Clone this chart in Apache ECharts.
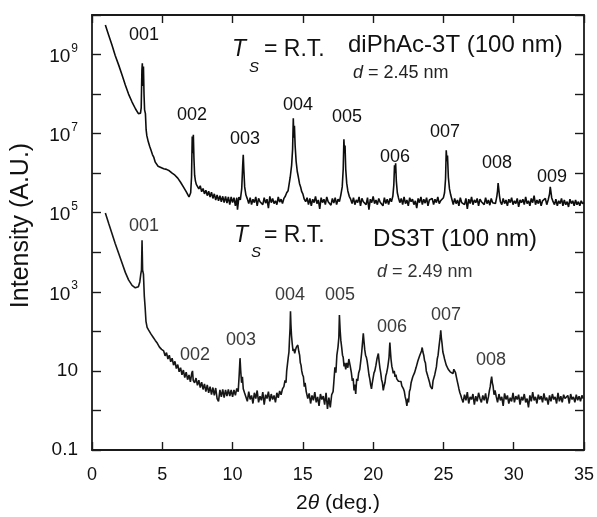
<!DOCTYPE html>
<html>
<head>
<meta charset="utf-8">
<script src="https://cdn.jsdelivr.net/npm/echarts@6/dist/echarts.min.js"></script>
<style>
html,body{margin:0;padding:0;background:#fff;}
#chart{width:597px;height:517px;}
</style>
</head>
<body>
<div id="chart"></div>
<script>
// ---- tick values / labels ----
const xTickValues = [0, 5, 10, 15, 20, 25, 30, 35];
const yTickValues = [0.1, 1, 10, 100, 1e3, 1e4, 1e5, 1e6, 1e7, 1e8, 1e9, 1e10];
const yLabelValues = [0.1, 10, 1e3, 1e5, 1e7, 1e9];

// ---- diPhAc-3T (upper trace): [2theta, intensity] ----
const diPhAc3T = [
[0.95,5.6e9],[1.2,3.0e9],[1.42,1.74e9],[1.65,9.5e8],[1.9,5.4e8],[2.15,2.95e8],[2.37,1.7e8],[2.6,1.0e8],[2.85,6.3e7],[3.1,4.2e7],[3.3,3.2e7],[3.4,2.95e7],[3.45,3.3e7],[3.5,4.5e7],[3.55,4.0e8],[3.58,6.0e8],[3.62,1.6e8],[3.66,5.0e8],[3.7,1.0e8],[3.74,4.0e7],[3.8,3.2e7],[3.85,1.26e7],[3.9,8.9e6],
[4.0,6.3e6],[4.1,4.8e6],[4.2,3.8e6],[4.3,2.95e6],[4.4,2.5e6],[4.5,1.9e6],[4.6,1.85e6],[4.7,1.5e6],[4.8,1.6e6],[4.9,1.4e6],[5.0,1.55e6],[5.1,1.3e6],[5.2,1.45e6],[5.3,1.25e6],[5.4,1.4e6],[5.5,1.15e6],[5.6,1.25e6],[5.7,1.0e6],[5.8,1.1e6],[5.9,8.9e5],[6.0,9.5e5],[6.1,7.5e5],[6.2,7.6e5],[6.3,5.9e5],[6.4,6.0e5],[6.5,4.5e5],[6.6,4.6e5],[6.7,3.4e5],[6.8,3.3e5],[6.9,2.5e5],[6.95,2.3e5],[7.02,3.2e5],[7.08,7.9e5],[7.13,8.5e6],[7.17,3.2e6],[7.21,9.3e6],[7.25,2.5e6],[7.3,8.9e5],[7.36,6.3e5],[7.42,5.2e5],[7.5,5.6e5],[7.6,4.0e5],[7.7,4.8e5],[7.8,3.4e5],[7.9,4.1e5],[8.0,3.0e5],[8.1,3.7e5],[8.2,2.7e5],[8.3,3.5e5],[8.4,2.5e5],[8.5,3.3e5],[8.6,2.3e5],[8.7,3.0e5],[8.8,2.1e5],[8.9,2.8e5],[9.0,2.0e5],[9.1,2.7e5],[9.2,1.9e5],[9.3,2.6e5],[9.4,1.8e5],[9.5,2.6e5],[9.6,1.75e5],[9.7,2.5e5],[9.8,1.6e5],[9.9,2.5e5],[10.0,1.8e5],[10.1,2.4e5],[10.2,1.5e5],[10.3,2.4e5],[10.35,1.2e5],[10.45,2.5e5],[10.55,2.1e5],[10.65,4.0e5],[10.72,1.58e6],[10.76,2.9e6],[10.8,1.26e6],[10.86,4.5e5],[10.95,2.8e5],[11.05,2.24e5],
[11.15,1.7e5],[11.25,2.4e5],[11.35,1.6e5],[11.45,2.2e5],[11.55,1.8e5],[11.65,2.5e5],[11.75,1.5e5],[11.85,2.3e5],[11.95,1.9e5],[12.05,2.1e5],[12.15,1.6e5],[12.25,2.4e5],[12.35,1.75e5],[12.45,2.2e5],[12.55,1.3e5],[12.65,2.6e5],[12.75,1.8e5],[12.85,2.3e5],[12.95,1.7e5],[13.05,2.0e5],[13.15,1.6e5],[13.25,2.5e5],[13.35,1.85e5],[13.45,2.2e5],[13.55,1.7e5],
[13.65,2.3e5],[13.75,2.6e5],[13.85,3.2e5],[13.95,3.6e5],[14.02,5.2e5],[14.1,7.9e5],[14.2,1.58e6],[14.27,4.0e6],[14.32,2.45e7],[14.36,7.9e6],[14.4,1.58e7],[14.45,5.0e6],[14.52,2.0e6],[14.6,1.12e6],[14.68,8.0e5],[14.76,5.5e5],[14.84,4.5e5],[14.92,3.4e5],[15.0,3.0e5],[15.1,2.2e5],
[15.2,1.9e5],[15.3,2.4e5],[15.4,1.6e5],[15.5,2.3e5],[15.6,1.5e5],[15.7,2.2e5],[15.8,1.8e5],[15.9,2.6e5],[16.0,1.7e5],[16.1,2.1e5],[16.2,1.25e5],[16.3,2.4e5],[16.4,1.8e5],[16.5,2.2e5],[16.6,1.6e5],[16.7,2.5e5],[16.8,1.9e5],[16.9,2.0e5],[17.0,1.55e5],[17.1,2.3e5],[17.2,1.75e5],[17.3,2.4e5],[17.4,1.6e5],[17.5,2.2e5],[17.6,1.9e5],
[17.7,2.8e5],[17.8,4.5e5],[17.87,1.26e6],[17.92,7.2e6],[17.96,3.2e6],[18.0,5.0e6],[18.05,1.26e6],[18.12,5.6e5],[18.2,3.55e5],[18.3,2.6e5],
[18.4,2.2e5],[18.5,1.7e5],[18.6,2.4e5],[18.7,1.6e5],[18.8,2.1e5],[18.9,1.8e5],[19.0,2.5e5],[19.1,1.5e5],[19.2,2.3e5],[19.3,1.9e5],[19.4,2.0e5],[19.5,1.6e5],[19.6,2.4e5],[19.7,1.2e5],[19.8,2.2e5],[19.9,1.8e5],[20.0,2.6e5],[20.1,1.7e5],[20.2,2.1e5],[20.3,1.6e5],[20.4,2.3e5],[20.5,1.85e5],[20.6,2.0e5],[20.7,1.5e5],[20.8,2.4e5],[20.9,1.7e5],[21.0,2.2e5],[21.1,1.6e5],[21.2,2.3e5],[21.3,1.9e5],
[21.4,2.6e5],[21.47,5.0e5],[21.52,1.58e6],[21.56,1.0e6],[21.6,1.78e6],[21.65,6.3e5],[21.72,3.2e5],[21.8,2.4e5],
[21.9,1.8e5],[22.0,2.3e5],[22.1,1.6e5],[22.2,2.5e5],[22.3,1.7e5],[22.4,2.1e5],[22.5,1.5e5],[22.6,2.4e5],[22.7,1.9e5],[22.8,2.2e5],[22.9,1.6e5],[23.0,2.0e5],[23.1,1.3e5],[23.2,2.3e5],[23.3,1.8e5],[23.4,2.5e5],[23.5,1.6e5],[23.6,2.2e5],[23.7,1.75e5],[23.8,2.4e5],[23.9,1.5e5],[24.0,2.1e5],[24.1,1.9e5],[24.2,2.3e5],[24.3,1.6e5],[24.4,2.2e5],[24.5,1.8e5],[24.6,2.5e5],[24.7,1.7e5],[24.8,2.0e5],[24.9,1.9e5],[25.0,2.4e5],
[25.08,3.2e5],[25.15,7.1e5],[25.2,3.8e6],[25.25,2.0e6],[25.29,2.8e6],[25.35,7.9e5],[25.43,4.0e5],[25.52,2.8e5],
[25.6,2.2e5],[25.7,1.6e5],[25.8,2.3e5],[25.9,1.7e5],[26.0,2.1e5],[26.1,1.5e5],[26.2,2.4e5],[26.3,1.8e5],[26.4,2.0e5],[26.5,1.6e5],[26.6,2.3e5],[26.7,1.25e5],[26.8,2.2e5],[26.9,1.7e5],[27.0,2.5e5],[27.1,1.6e5],[27.2,2.1e5],[27.3,1.8e5],[27.4,2.3e5],[27.5,1.5e5],[27.6,2.2e5],[27.7,1.9e5],[27.8,2.0e5],[27.9,1.6e5],[28.0,2.4e5],[28.1,1.7e5],[28.2,2.1e5],[28.3,1.55e5],[28.4,2.3e5],[28.5,1.8e5],[28.6,2.0e5],[28.7,1.7e5],
[28.8,2.6e5],[28.85,3.6e5],[28.89,5.6e5],[28.93,4.2e5],[28.98,2.8e5],
[29.05,1.9e5],[29.15,1.6e5],[29.25,2.3e5],[29.35,1.7e5],[29.45,2.1e5],[29.55,1.5e5],[29.65,2.2e5],[29.75,1.8e5],[29.85,2.4e5],[29.95,1.6e5],[30.05,2.0e5],[30.15,1.7e5],[30.25,2.3e5],[30.35,1.4e5],[30.45,2.1e5],[30.55,1.8e5],[30.65,2.2e5],[30.75,1.6e5],[30.85,2.5e5],[30.95,1.7e5],[31.05,2.0e5],[31.15,1.5e5],[31.25,2.3e5],[31.35,1.8e5],[31.45,2.7e5],[31.55,1.6e5],[31.65,2.1e5],[31.75,1.7e5],[31.85,2.2e5],[31.95,1.5e5],[32.05,2.0e5],[32.15,1.8e5],[32.25,2.3e5],[32.35,1.6e5],[32.45,2.1e5],
[32.55,3.0e5],[32.6,4.5e5],[32.65,3.3e5],[32.7,2.4e5],
[32.8,1.9e5],[32.9,1.6e5],[33.0,2.2e5],[33.1,1.5e5],[33.2,2.0e5],[33.3,1.7e5],[33.4,2.3e5],[33.5,1.5e5],[33.6,2.1e5],[33.7,1.6e5],[33.8,1.9e5],[33.9,1.4e5],[34.0,2.2e5],[34.1,1.7e5],[34.2,2.0e5],[34.3,1.5e5],[34.4,2.1e5],[34.5,1.6e5],[34.6,1.9e5],[34.7,1.5e5],[34.8,2.0e5],[34.9,1.7e5],[35.0,1.8e5]
];

// ---- DS3T (lower trace): [2theta, intensity] ----
const ds3T = [
[0.95,9.8e4],[1.2,5.2e4],[1.42,3.0e4],[1.65,1.66e4],[1.9,9.3e3],[2.15,5.2e3],[2.37,3.1e3],[2.6,2.0e3],[2.85,1.45e3],[3.08,1.26e3],[3.3,1.35e3],[3.4,1.78e3],[3.47,2.8e3],[3.52,3.55e3],[3.56,2.0e4],[3.6,3.55e3],[3.66,2.8e3],[3.72,7.9e2],[3.78,4.0e2],[3.84,1.78e2],[3.92,1.26e2],[4.03,1.07e2],[4.2,85],[4.35,71],[4.5,59],[4.65,50],[4.8,40],[4.95,35],[5.1,32],[5.2,24],[5.3,29],[5.4,20],[5.5,25],[5.6,17],[5.7,21],[5.8,14],[5.9,17.5],[6.0,11.5],[6.1,14.5],[6.2,9.5],[6.3,12],[6.4,8.0],[6.5,10.5],[6.6,6.8],[6.7,9.3],[6.8,6.0],[6.9,7.9],[7.0,5.3],[7.1,8.9],[7.15,10],[7.2,5.8],[7.3,5.0],[7.4,6.6],[7.5,4.3],[7.6,5.8],[7.7,3.8],[7.8,5.2],[7.9,3.4],[8.0,4.7],[8.1,3.0],[8.2,4.4],[8.3,2.8],[8.4,4.0],[8.5,2.5],[8.6,3.8],[8.7,2.4],[8.8,3.7],[8.9,2.0],[9.0,1.7],[9.1,3.3],[9.2,2.2],[9.3,3.4],[9.4,2.1],[9.5,3.3],[9.6,2.3],[9.7,3.4],[9.8,2.3],[9.9,3.3],[10.0,2.2],[10.1,3.3],[10.2,2.4],[10.3,3.6],[10.4,3.0],[10.47,7.9],[10.53,21],[10.58,10],[10.64,5.0],[10.7,7.1],[10.76,3.55],[10.85,2.8],
[10.95,2.6],[11.05,1.7],[11.15,3.0],[11.25,1.9],[11.35,2.4],[11.45,1.5],[11.55,2.8],[11.65,2.0],[11.75,3.2],[11.85,1.6],[11.95,2.3],[12.05,1.8],[12.15,2.9],[12.25,1.4],[12.35,2.5],[12.45,2.0],[12.55,3.0],[12.65,1.7],[12.75,2.6],[12.85,1.9],[12.95,2.4],[13.05,1.6],[13.15,2.8],[13.25,2.1],[13.35,3.1],[13.45,2.5],
[13.55,3.5],[13.65,4.0],[13.73,5.8],[13.8,5.0],[13.85,10],[13.91,9],[13.96,22],[14.01,30],[14.05,63],[14.09,120],[14.12,320],[14.15,150],[14.19,80],[14.24,50],[14.3,32],[14.36,36],[14.42,28],[14.48,34],[14.54,40],[14.6,38],[14.64,45],[14.68,42],[14.72,30],[14.77,25],[14.82,16],[14.87,14],[14.92,10],[14.98,8],[15.04,7.1],[15.1,4.0],[15.16,5.0],[15.24,3.0],
[15.35,2.0],[15.45,2.7],[15.55,1.5],[15.65,2.4],[15.75,1.8],[15.85,2.9],[15.95,1.6],[16.05,2.2],[16.15,1.3],[16.25,2.6],[16.35,1.9],[16.45,2.3],[16.55,1.4],[16.65,2.8],[16.75,1.1],[16.85,2.1],[16.95,1.2],[17.05,2.5],
[17.15,3.0],[17.2,5.0],[17.28,12.3],[17.35,9],[17.42,25],[17.5,40],[17.56,70],[17.6,260],[17.65,110],[17.7,60],[17.76,40],[17.82,25],[17.87,22],[17.93,13],[17.98,16],[18.05,11],[18.12,16],[18.2,12],[18.27,20],[18.32,21],[18.38,12.6],[18.45,9],[18.52,5.6],[18.58,6.5],[18.64,3.2],[18.7,4.5],[18.76,2.6],[18.83,6.3],[18.9,5.6],[18.97,8.9],[19.05,11],[19.12,18],[19.18,28],[19.24,50],[19.3,89],[19.34,60],[19.4,35],[19.46,25],[19.52,22],[19.57,18],[19.63,12.6],[19.7,8],[19.76,6.3],[19.82,4.5],[19.88,3.5],[19.94,5.0],[20.0,5.6],[20.06,8.9],[20.12,10],[20.2,14],[20.27,20],[20.33,22],[20.37,27.5],[20.42,18],[20.48,12],[20.54,8.9],[20.6,6],[20.66,5],[20.72,3.2],[20.78,4.2],[20.84,5.0],[20.9,7.5],[20.96,8.9],[21.03,12],[21.08,16],[21.13,22],[21.17,40],[21.19,52],[21.22,35],[21.27,20],[21.33,13],[21.38,11],[21.43,8.7],[21.5,10],[21.56,7.1],[21.62,8.0],[21.68,6.3],[21.74,7.0],[21.8,5.5],[21.86,6.0],[21.92,5.0],[21.98,5.4],[22.04,4.2],[22.1,4.6],[22.16,3.5],[22.22,3.0],[22.28,2.2],[22.34,1.8],[22.4,1.3],[22.46,2.0],[22.52,1.6],[22.58,3.0],[22.64,3.5],[22.7,5.0],[22.76,4.5],[22.82,7.1],[22.88,6.5],[22.94,8.9],[23.0,9.5],[23.06,12.3],[23.12,11],[23.18,17.8],[23.25,16],[23.32,25],[23.38,28],[23.44,32],[23.49,39],[23.54,30],[23.6,25],[23.66,18],[23.72,16],[23.78,10],[23.84,9],[23.9,7.1],[23.96,6],[24.02,5.0],[24.08,4.0],[24.14,3.8],[24.2,3.5],[24.26,5.6],[24.32,5.5],[24.38,7.9],[24.44,10],[24.5,12.6],[24.56,20],[24.62,25],[24.68,40],[24.74,60],[24.78,80],[24.81,107],[24.85,70],[24.9,50],[24.96,30],[25.02,25],[25.08,20],[25.14,18.6],[25.2,14],[25.27,12.6],[25.34,11],[25.41,10],[25.48,9.5],[25.55,8.9],[25.62,9.5],[25.68,8.5],[25.74,11],[25.8,11.5],[25.86,9],[25.92,7.1],[25.98,5.6],[26.04,4.5],[26.1,3.55],[26.17,2.8],[26.24,2.4],
[26.3,2.0],[26.4,1.6],[26.5,2.5],[26.6,1.8],[26.7,2.9],[26.8,1.5],[26.9,2.2],[27.0,1.9],[27.1,2.6],[27.2,1.4],[27.3,2.3],[27.4,1.7],[27.5,2.8],[27.6,2.0],[27.7,1.6],[27.8,2.4],[27.9,1.8],[28.0,2.7],[28.1,1.5],[28.2,2.2],
[28.27,3.16],[28.33,4.0],[28.38,5.6],[28.43,7.2],[28.48,5.0],[28.53,4.2],[28.6,2.5],[28.67,3.2],
[28.75,2.3],[28.85,1.6],[28.95,2.6],[29.05,1.8],[29.15,2.2],[29.25,1.3],[29.35,2.7],[29.45,1.9],[29.55,2.4],[29.65,1.5],[29.75,2.1],[29.85,1.7],[29.95,2.8],[30.05,1.6],[30.15,2.3],[30.25,1.9],[30.35,2.5],[30.45,1.4],[30.55,2.2],[30.65,1.8],[30.75,2.6],[30.85,1.6],[30.95,2.0],[31.05,1.2],[31.15,2.4],[31.25,1.7],[31.35,2.9],[31.45,1.8],[31.55,2.2],[31.65,1.5],[31.75,2.5],[31.85,1.9],[31.95,2.3],[32.05,1.6],[32.15,2.7],[32.25,1.8],[32.35,2.1],[32.45,1.4],[32.55,2.4],[32.65,1.7],[32.75,2.6],[32.85,1.9],[32.95,2.2],[33.05,1.5],[33.15,2.8],[33.25,1.7],[33.35,2.3],[33.45,1.6],[33.55,2.5],[33.65,2.0],[33.75,1.8],[33.85,2.4],[33.95,1.5],[34.05,2.6],[34.15,1.9],[34.25,2.2],[34.35,1.6],[34.45,2.5],[34.55,1.8],[34.65,2.3],[34.75,1.7],[34.85,2.4],[34.95,2.0]
];

// ---- peak index labels ----
const upperPeakLabels = ['001','002','003','004','005','006','007','008','009'];
const lowerPeakLabels = ['001','002','003','004','005','006','007','008'];

const FONT = "'Liberation Sans', Arial, sans-serif";
const AX = '#1a1a1a';

// pixel positions of annotation texts
const upperLabelPos = [[144,35],[192,115],[245,139],[298,105],[347,117],[395,157],[445,132],[497,163],[552,177]];
const lowerLabelPos = [[144,226],[195,355],[241,340],[290,295],[340,295],[392,327],[446,315],[491,360]];

function txt(x, y, text, size, opts) {
  opts = opts || {};
  return {
    type: 'text', x: x, y: y, silent: true, z: 100,
    style: {
      text: text, fontSize: size, fontFamily: FONT,
      fontStyle: opts.italic ? 'italic' : 'normal',
      fill: opts.color || '#111',
      align: opts.align || 'center', verticalAlign: 'middle'
    }
  };
}

const graphics = [];
upperPeakLabels.forEach((t, i) => graphics.push(txt(upperLabelPos[i][0], upperLabelPos[i][1], t, 18, {color:'#111'})));
lowerPeakLabels.forEach((t, i) => graphics.push(txt(lowerLabelPos[i][0], lowerLabelPos[i][1], t, 18, {color:'#3a3a3a'})));
// upper sample annotation
graphics.push(txt(232, 50, 'T', 23, {italic:true, align:'left'}));
graphics.push(txt(249, 68, 'S', 15, {italic:true, align:'left'}));
graphics.push(txt(264, 50, '= R.T.', 23, {align:'left'}));
graphics.push(txt(348, 45, 'diPhAc-3T (100 nm)', 24, {align:'left'}));
graphics.push(txt(353, 73, 'd', 18, {italic:true, align:'left', color:'#222'}));
graphics.push(txt(368, 73, '= 2.45 nm', 18, {align:'left', color:'#222'}));
// lower sample annotation
graphics.push(txt(234, 236, 'T', 23, {italic:true, align:'left'}));
graphics.push(txt(251, 253, 'S', 15, {italic:true, align:'left'}));
graphics.push(txt(264, 236, '= R.T.', 23, {align:'left'}));
graphics.push(txt(373, 239, 'DS3T (100 nm)', 24, {align:'left'}));
graphics.push(txt(377, 272, 'd', 18, {italic:true, align:'left', color:'#333'}));
graphics.push(txt(392, 272, '= 2.49 nm', 18, {align:'left', color:'#333'}));

function yLabelFmt(v) {
  const e = Math.round(Math.log10(v));
  if (e === -1) return '0.1';
  if (e === 1) return '10';
  return '{b|10}{s|' + e + '}';
}

const axisLineStyle = { color: AX, width: 1.8 };
const tickStyle = { color: AX, width: 1.4 };

const option = {
  animation: false,
  backgroundColor: '#fff',
  grid: { left: 92, right: 13, top: 15, bottom: 67, containLabel: false, outerBoundsMode: 'none' },
  xAxis: [
    {
      type: 'value', min: 0, max: 35, interval: 5, position: 'bottom',
      axisLine: { show: true, onZero: false, lineStyle: axisLineStyle },
      axisTick: { show: true, inside: true, length: 8, lineStyle: tickStyle },
      axisLabel: { fontSize: 18, fontFamily: FONT, color: '#111', margin: 16 },
      splitLine: { show: false },
      name: '2{i|θ} (deg.)', nameLocation: 'middle', nameGap: 43,
      nameTextStyle: { fontSize: 21, fontFamily: FONT, color: '#111',
        rich: { i: { fontSize: 21, fontFamily: FONT, fontStyle: 'italic', color: '#111' } } }
    },
    {
      type: 'value', min: 0, max: 35, interval: 5, position: 'top',
      axisLine: { show: true, onZero: false, lineStyle: axisLineStyle },
      axisTick: { show: true, inside: true, length: 8, lineStyle: tickStyle },
      axisLabel: { show: false }, splitLine: { show: false }
    }
  ],
  yAxis: [
    {
      type: 'log', logBase: 10, min: 0.1, max: 1e10, position: 'left',
      axisLine: { show: true, onZero: false, lineStyle: axisLineStyle },
      axisTick: { show: true, inside: true, length: 9, lineStyle: tickStyle, customValues: yTickValues },
      axisLabel: {
        customValues: yLabelValues, formatter: yLabelFmt, margin: 14,
        fontSize: 19, fontFamily: FONT, color: '#111',
        rich: {
          b: { fontSize: 19, fontFamily: FONT, color: '#111', lineHeight: 24, verticalAlign: 'bottom' },
          s: { fontSize: 12, fontFamily: FONT, color: '#111', lineHeight: 24, verticalAlign: 'top', padding: [0, 0, 0, 1] }
        }
      },
      splitLine: { show: false },
      name: 'Intensity (A.U.)', nameLocation: 'middle', nameGap: 58,
      nameTextStyle: { fontSize: 25, fontFamily: FONT, color: '#111', padding: [0, 0, 0, 14] }
    },
    {
      type: 'log', logBase: 10, min: 0.1, max: 1e10, position: 'right',
      axisLine: { show: true, onZero: false, lineStyle: axisLineStyle },
      axisTick: { show: true, inside: true, length: 9, lineStyle: tickStyle, customValues: yTickValues },
      axisLabel: { show: false }, splitLine: { show: false }
    }
  ],
  series: [
    {
      name: 'diPhAc-3T', type: 'line', xAxisIndex: 0, yAxisIndex: 0,
      data: diPhAc3T, showSymbol: false, symbol: 'none', sampling: null,
      lineStyle: { color: '#0d0d0d', width: 1.6 }, z: 5
    },
    {
      name: 'DS3T', type: 'line', xAxisIndex: 0, yAxisIndex: 0,
      data: ds3T, showSymbol: false, symbol: 'none', sampling: null,
      lineStyle: { color: '#161616', width: 1.6 }, z: 5
    }
  ],
  graphic: graphics
};

const chart = echarts.init(document.getElementById('chart'), null, { renderer: 'canvas' });
chart.setOption(option);
</script>
</body>
</html>
